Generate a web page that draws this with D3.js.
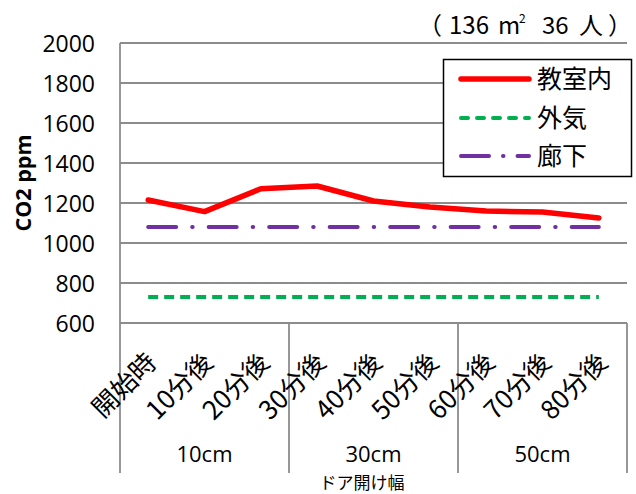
<!DOCTYPE html>
<html><head><meta charset="utf-8">
<script src="https://cdn.jsdelivr.net/npm/d3@7"></script>
<style>
html,body{margin:0;padding:0;background:#fff;}
svg{display:block;}
</style></head>
<body>
<svg id="chart" width="636" height="494"></svg>
<script>
const categories = ["開始時","10分後","20分後","30分後","40分後","50分後","60分後","70分後","80分後"];
const groups = ["10cm","30cm","50cm"];
const groupSize = 3;
const classroom = [1215, 1157, 1271, 1285, 1210, 1180, 1160, 1155, 1125];
const outside = [730, 730, 730, 730, 730, 730, 730, 730, 730];
const corridor = [1080, 1080, 1080, 1080, 1080, 1080, 1080, 1080, 1080];
const seriesNames = ["教室内","外気","廊下"];
const yTicks = [600, 800, 1000, 1200, 1400, 1600, 1800, 2000];

const svg = d3.select("#chart");
const L = 120, R = 627, T = 43, B = 323;
const jp = "'Noto Sans CJK JP', 'Noto Sans', sans-serif";
const num = "'Open Sans', 'Noto Sans', sans-serif";

const x = d3.scaleBand().domain(categories).range([L, R]).padding(0);
const cx = c => x(c) + x.bandwidth() / 2;
const y = d3.scaleLinear().domain([600, 2000]).range([B, T]);

// gridlines
svg.append("g").selectAll("line").data(yTicks).join("line")
  .attr("x1", L).attr("x2", R).attr("y1", d => y(d)).attr("y2", d => y(d))
  .attr("stroke", "#8c8c8c").attr("stroke-width", 1.8);

// y axis
const yAxis = d3.axisLeft(y).tickValues(yTicks).tickFormat(d3.format("d")).tickSize(0).tickPadding(25);
const yg = svg.append("g").attr("transform", `translate(${L},0)`).call(yAxis);
yg.select(".domain").remove();
yg.selectAll("text").attr("font-family", num).attr("font-size", 23).attr("fill", "#000").attr("dy", "0.36em");

// left axis line & group separators
const bounds = groups.map((g, i) => x(categories[i * groupSize])).concat([R]);
svg.append("line").attr("x1", L).attr("x2", L).attr("y1", T).attr("y2", 473)
  .attr("stroke", "#8c8c8c").attr("stroke-width", 1.8);
svg.append("g").selectAll("line").data(bounds.slice(1)).join("line")
  .attr("x1", d => d).attr("x2", d => d).attr("y1", B).attr("y2", 473)
  .attr("stroke", "#8c8c8c").attr("stroke-width", 1.8);

// category labels
svg.append("g").selectAll("text").data(categories).join("text")
  .attr("transform", d => `translate(${cx(d) + 10},${B + 41}) rotate(-45)`)
  .attr("text-anchor", "end")
  .attr("font-family", jp).attr("font-size", 26).attr("fill", "#000")
  .text(d => d);

// group labels
svg.append("g").selectAll("text").data(groups).join("text")
  .attr("x", (d, i) => (bounds[i] + bounds[i + 1]) / 2)
  .attr("y", 462)
  .attr("text-anchor", "middle")
  .attr("font-family", num).attr("font-size", 22).attr("fill", "#000")
  .text(d => d);

// x axis title
svg.append("text").attr("x", 362).attr("y", 489).attr("text-anchor", "middle")
  .attr("font-family", jp).attr("font-size", 17).attr("fill", "#000").text("ドア開け幅");

// y axis title
svg.append("text").attr("transform", `translate(31,${(T + B) / 2}) rotate(-90)`)
  .attr("text-anchor", "middle").attr("font-family", num).attr("font-weight", "bold")
  .attr("font-size", 21.5).attr("fill", "#000").text("CO2 ppm");

// lines
const line = d3.line().x((d, i) => cx(categories[i])).y(d => y(d));
const styles = [
  {data: classroom, color: "#ff0000", width: 5.5, dash: null, cap: "round", ldash: null},
  {data: outside, color: "#00b050", width: 4, dash: "10,6", cap: "butt", ldash: "7,9"},
  {data: corridor, color: "#7030a0", width: 4, dash: "28,16,0.5,16", cap: "round", ldash: "28,14,0.5,14"}
];
[1, 2, 0].forEach(k => {
  const s = styles[k];
  svg.append("path").datum(s.data).attr("d", line)
    .attr("fill", "none").attr("stroke", s.color).attr("stroke-width", s.width)
    .attr("stroke-linecap", s.cap).attr("stroke-linejoin", "round")
    .attr("stroke-dasharray", s.dash);
});

// legend
const lg = svg.append("g");
lg.append("rect").attr("x", 443.5).attr("y", 59.5).attr("width", 188).attr("height", 117)
  .attr("fill", "#fff").attr("stroke", "#000").attr("stroke-width", 1.5);
const rowsY = [79, 118, 156];
seriesNames.forEach((n, i) => {
  const s = styles[i];
  lg.append("line").attr("x1", 461).attr("x2", 529).attr("y1", rowsY[i]).attr("y2", rowsY[i])
    .attr("stroke", s.color).attr("stroke-width", s.width)
    .attr("stroke-linecap", "round")
    .attr("stroke-dasharray", s.ldash);
  lg.append("text").attr("x", 537).attr("y", rowsY[i]).attr("dy", "0.36em")
    .attr("font-family", jp).attr("font-size", 25).attr("fill", "#000").text(n);
});

// top-right note
const note = svg.append("text").attr("y", 34)
  .attr("font-family", jp).attr("font-size", 24).attr("fill", "#000");
note.append("tspan").attr("x", 418).text("（");
note.append("tspan").attr("x", 449).text("136");
note.append("tspan").attr("x", 498).text("m");
note.append("tspan").attr("x", 519).attr("font-size", 12).attr("dy", -11).text("2");
note.append("tspan").attr("x", 542).attr("dy", 11).text("36");
note.append("tspan").attr("x", 579).text("人");
note.append("tspan").attr("x", 608).text("）");
</script>
</body></html>
